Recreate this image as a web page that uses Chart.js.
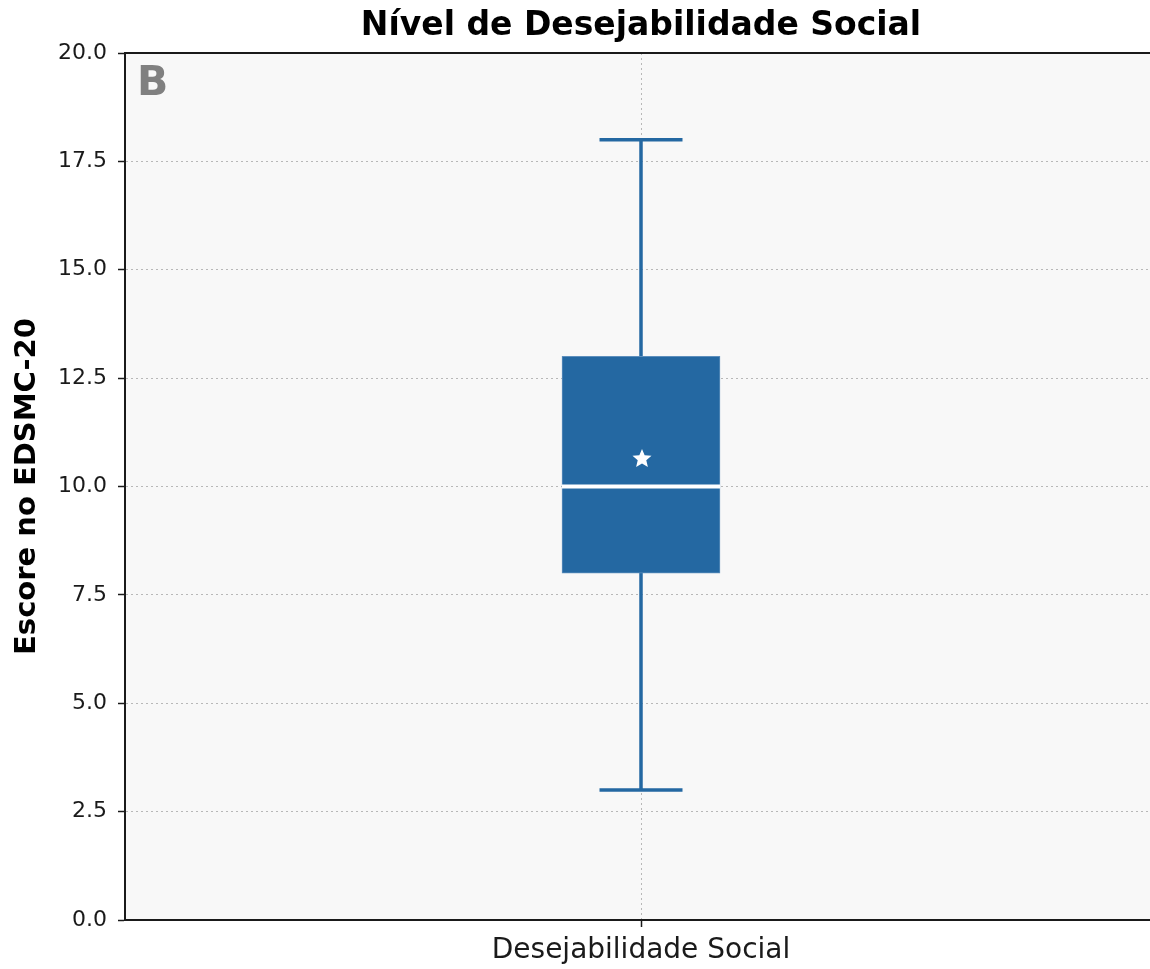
<!DOCTYPE html>
<html>
<head>
<meta charset="utf-8">
<script src="https://cdn.jsdelivr.net/npm/chart.js@4/dist/chart.umd.min.js"></script>
<style>
  html, body { margin: 0; padding: 0; background: #ffffff; overflow: hidden; }
  /* the plot area runs slightly past the right edge of the window */
  #wrap { position: relative; width: 1160px; height: 969px; }
</style>
</head>
<body>
<div id="wrap"><canvas id="chart"></canvas></div>
<script>
// Box-plot summary of the EDSMC-20 score
const categories  = ['Desejabilidade Social'];
const whiskerLow  = [3];
const quartile1   = [8];
const medians     = [10];
const quartile3   = [13];
const whiskerHigh = [18];
const means       = [10.66];

// y axis ticks
const yTicks = [0, 2.5, 5, 7.5, 10, 12.5, 15, 17.5, 20];

const BOX_COLOR = '#2468a2';
const FONT = "'DejaVu Sans', sans-serif";

// plot background, panel letter and top spine
const panelPlugin = {
  id: 'panel',
  beforeDraw(chart) {
    const { ctx, chartArea: a } = chart;
    ctx.save();
    ctx.fillStyle = '#f8f8f8';
    ctx.fillRect(a.left, a.top, a.right - a.left, a.bottom - a.top);
    ctx.restore();
  },
  afterDraw(chart) {
    const { ctx, chartArea: a } = chart;
    ctx.save();
    ctx.strokeStyle = '#1a1a1a';
    ctx.lineWidth = 2;
    ctx.beginPath();
    ctx.moveTo(a.left - 1, a.top);
    ctx.lineTo(a.right + 3, a.top);
    ctx.stroke();
    ctx.fillStyle = '#808080';
    ctx.font = "bold 41px " + FONT;
    ctx.textAlign = 'left';
    ctx.textBaseline = 'top';
    ctx.fillText('B', a.left + 12, a.top + 11);
    ctx.restore();
  }
};

function starPath(ctx, cx, cy, rOuter, rInner) {
  ctx.beginPath();
  for (let k = 0; k < 10; k++) {
    const r = k % 2 === 0 ? rOuter : rInner;
    const ang = -Math.PI / 2 + k * Math.PI / 5;
    const px = cx + r * Math.cos(ang);
    const py = cy + r * Math.sin(ang);
    if (k === 0) ctx.moveTo(px, py); else ctx.lineTo(px, py);
  }
  ctx.closePath();
}

// whiskers behind the box, median line and mean marker on top
const boxPlotPlugin = {
  id: 'boxParts',
  beforeDatasetsDraw(chart) {
    const { ctx } = chart;
    const xs = chart.scales.x, ys = chart.scales.y;
    ctx.save();
    ctx.strokeStyle = BOX_COLOR;
    ctx.lineWidth = 3.5;
    categories.forEach((c, i) => {
      const x = xs.getPixelForValue(i);
      const yLo = ys.getPixelForValue(whiskerLow[i]);
      const yHi = ys.getPixelForValue(whiskerHigh[i]);
      const capHalf = 41.5;
      ctx.beginPath();
      ctx.moveTo(x, yLo); ctx.lineTo(x, yHi);
      ctx.moveTo(x - capHalf, yLo); ctx.lineTo(x + capHalf, yLo);
      ctx.moveTo(x - capHalf, yHi); ctx.lineTo(x + capHalf, yHi);
      ctx.stroke();
    });
    ctx.restore();
  },
  afterDatasetsDraw(chart) {
    const { ctx } = chart;
    const xs = chart.scales.x, ys = chart.scales.y;
    const meta = chart.getDatasetMeta(0);
    ctx.save();
    categories.forEach((c, i) => {
      const bar = meta.data[i];
      const half = bar.width / 2;
      const x = xs.getPixelForValue(i);
      const yMed = ys.getPixelForValue(medians[i]);
      ctx.strokeStyle = '#ffffff';
      ctx.lineWidth = 4;
      ctx.beginPath();
      ctx.moveTo(x - half, yMed); ctx.lineTo(x + half, yMed);
      ctx.stroke();
      const yMean = ys.getPixelForValue(means[i]);
      ctx.fillStyle = '#ffffff';
      starPath(ctx, x + 1, yMean + 1, 10, 4.5);
      ctx.fill();
    });
    ctx.restore();
  }
};

new Chart(document.getElementById('chart'), {
  type: 'bar',
  data: {
    labels: categories,
    datasets: [{
      label: 'EDSMC-20',
      data: categories.map((c, i) => [quartile1[i], quartile3[i]]),
      backgroundColor: BOX_COLOR,
      borderColor: '#5d8fbd',
      borderWidth: 1,
      borderSkipped: false,
      barThickness: 158
    }]
  },
  options: {
    responsive: true,
    maintainAspectRatio: false,
    animation: false,
    layout: { padding: { left: 0, right: 3, top: 0, bottom: 0 } },
    plugins: {
      legend: { display: false },
      tooltip: { enabled: false },
      title: {
        display: true,
        text: 'Nível de Desejabilidade Social',
        color: '#000000',
        fullSize: false,
        font: { family: FONT, size: 33, weight: 'bold', lineHeight: 1.2 },
        padding: { top: 7, bottom: 6.4 }
      }
    },
    scales: {
      x: {
        type: 'category',
        offset: true,
        afterFit(scale) { scale.height = 49; },
        grid: {
          offset: false,
          color: '#b8b8b8',
          lineWidth: 1,
          tickLength: 7,
          tickColor: '#1a1a1a',
          tickWidth: 1.5,
          tickBorderDash: []
        },
        border: { display: true, color: '#1a1a1a', width: 2, dash: [2, 3] },
        ticks: {
          color: '#1a1a1a',
          padding: 7,
          font: { family: FONT, size: 28 }
        }
      },
      y: {
        type: 'linear',
        min: 0,
        max: 20,
        afterFit(scale) { scale.width = 125; },
        afterBuildTicks(scale) { scale.ticks = yTicks.map(v => ({ value: v })); },
        grid: {
          color: '#b8b8b8',
          lineWidth: 1,
          tickLength: 7,
          tickColor: '#1a1a1a',
          tickWidth: 1.5,
          tickBorderDash: []
        },
        border: { display: true, color: '#1a1a1a', width: 2, dash: [2, 3] },
        ticks: {
          color: '#1a1a1a',
          padding: 11,
          font: { family: FONT, size: 22 },
          callback: v => Number(v).toFixed(1)
        },
        title: {
          display: true,
          text: 'Escore no EDSMC-20',
          color: '#000000',
          font: { family: FONT, size: 29, weight: 'bold', lineHeight: 1.2 },
          padding: { top: 10, bottom: 0 }
        }
      }
    }
  },
  plugins: [panelPlugin, boxPlotPlugin]
});
</script>
</body>
</html>
